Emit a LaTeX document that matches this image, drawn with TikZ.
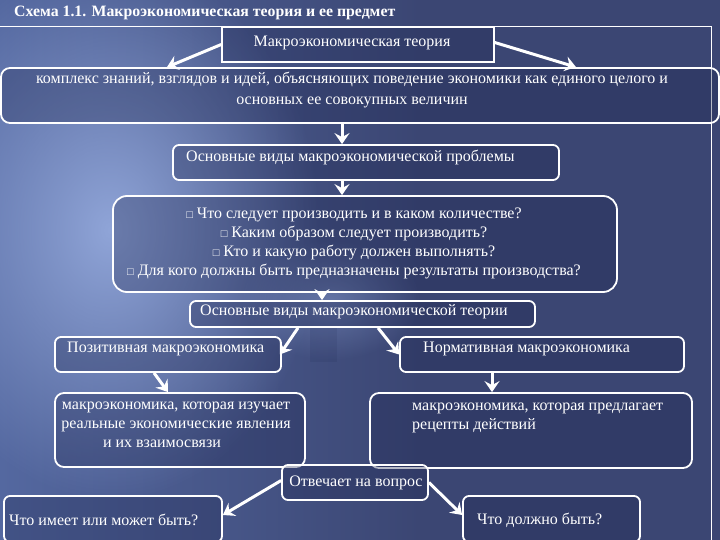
\documentclass[tikz,border=0pt]{standalone}
\usepackage{fontspec}
\setmainfont{Liberation Serif}
\usetikzlibrary{arrows.meta,fadings}
\definecolor{bgdark}{HTML}{3B4673}
\definecolor{bgmid}{HTML}{5468A0}
\definecolor{bglight}{HTML}{90A5D8}
\definecolor{boxfill}{HTML}{1E2650}
\tikzfading[name=glowfade, inner color=transparent!0, outer color=transparent!100]
\tikzset{
  box/.style={draw=white, line width=1.8pt, rounded corners=6pt, fill=boxfill, fill opacity=0.32, inner sep=0pt},
  lbl/.style={text=white, font=\fontsize{16}{19}\selectfont, inner sep=0pt},
  arr/.style={draw=white, line width=3pt, -{Stealth[length=11pt,width=15pt,inset=4pt]}}
}
\newcommand{\sqb}{{\fontsize{11}{11}\selectfont □}}
\begin{document}
\begin{tikzpicture}[x=1pt,y=-1pt]
\useasboundingbox (0,0) rectangle (720,540);
% background
\fill[bgdark] (0,0) rectangle (720,540);
\shade[left color=bgmid, right color=bgdark] (0,0) rectangle (420,540);
\fill[bglight, path fading=glowfade] (110,230) ellipse [x radius=210, y radius=270];
\fill[bglight, path fading=glowfade, opacity=0.45] (330,300) ellipse [x radius=90, y radius=60];
\fill[boxfill, opacity=0.12] (310,327) rectangle (337,362);
% frame
\draw[white, line width=0.9pt] (0,26) -- (711,26) -- (711,540);
% title
\node[lbl, anchor=west, font=\fontsize{15.8}{17}\selectfont\bfseries] (title) at (14,13) {Схема 1.1. Макроэкономическая теория и ее предмет};
% boxes
\node[draw=white, line width=1.5pt, fill=boxfill, fill opacity=0.3, minimum width=272pt, minimum height=35pt] (mt) at (358,44.5) {};
\node[box, rounded corners=9pt, minimum width=718pt, minimum height=55pt] (big) at (360,95.5) {};
\node[box, minimum width=386pt, minimum height=35pt] (prob) at (366,162.5) {};
\node[box, rounded corners=14pt, minimum width=504pt, minimum height=96pt] (q) at (365,244) {};
\node[box, minimum width=345pt, minimum height=26pt] (teor) at (362.5,314) {};
\node[box, minimum width=226pt, minimum height=35pt] (pos) at (168,354.5) {};
\node[box, minimum width=284pt, minimum height=35pt] (norm) at (542,354.5) {};
\node[box, rounded corners=9pt, minimum width=250pt, minimum height=74pt] (ldesc) at (180,430) {};
\node[box, rounded corners=9pt, minimum width=322pt, minimum height=75pt] (rdesc) at (531,430.5) {};
\node[box, minimum width=146pt, minimum height=35pt] (otv) at (355,482.5) {};
\node[box, minimum width=218pt, minimum height=46pt] (q1) at (113,519) {};
\node[box, minimum width=177pt, minimum height=46pt] (q2) at (551.5,519) {};
% texts
\node[lbl] (tmt) at (352,43) {Макроэкономическая теория};
\node[lbl, align=center, font=\fontsize{16}{21}\selectfont] (tbig) at (352,90.5) {комплекс знаний, взглядов и идей, объясняющих поведение экономики как единого целого и\\основных ее совокупных величин};
\node[lbl, anchor=west] (tprob) at (186,157) {Основные виды макроэкономической проблемы};
\node[lbl, align=center] (tq) at (354,243.5) {\sqb\ Что следует производить и в каком количестве?\\\sqb\ Каким образом следует производить?\\\sqb\ Кто и какую работу должен выполнять?\\\sqb\ Для кого должны быть предназначены результаты производства?};
\node[lbl, anchor=west] (tteor) at (200,311.5) {Основные виды макроэкономической теории};
\node[lbl, anchor=west] (tpos) at (67,349) {Позитивная макроэкономика};
\node[lbl, anchor=west] (tnorm) at (423,349) {Нормативная макроэкономика};
\node[lbl, align=center] (tldesc) at (176,425) {макроэкономика, которая изучает\\реальные экономические явления\\и их взаимосвязи\hspace*{28pt}};
\node[lbl, anchor=north west, align=left] (trdesc) at (412,403) {макроэкономика, которая предлагает\\рецепты действий};
\node[lbl] (totv) at (356,483) {Отвечает на вопрос};
\node[lbl, anchor=west] (tq1) at (9,520) {Что имеет или может быть?};
\node[lbl, anchor=west] (tq2) at (477,520) {Что должно быть?};
% arrows
\draw[arr] (mt.west) -- ([xshift=-193pt]big.north);
\draw[arr] ([yshift=2pt]mt.east) -- ([xshift=216pt]big.north);
\draw[arr] ([xshift=-18pt]big.south) -- ([xshift=-24pt]prob.north);
\draw[arr] ([xshift=-24pt]prob.south) -- ([xshift=-23pt]q.north);
\draw[arr] ([xshift=-43pt]q.south) -- ([xshift=-40.5pt]teor.north);
\draw[arr] ([xshift=-64.5pt]teor.south) -- ([xshift=-2pt]pos.east);
\draw[arr] ([xshift=15.5pt]teor.south) -- (norm.west);
\draw[arr] ([xshift=-14pt]pos.south) -- ([xshift=-12pt]ldesc.north);
\draw[arr] ([xshift=-50pt]norm.south) -- ([xshift=-39pt]rdesc.north);
\draw[arr] ([yshift=2pt]otv.west) -- ([yshift=4pt]q1.east);
\draw[arr] (otv.east) -- ([yshift=4pt]q2.west);
\end{tikzpicture}
\end{document}
